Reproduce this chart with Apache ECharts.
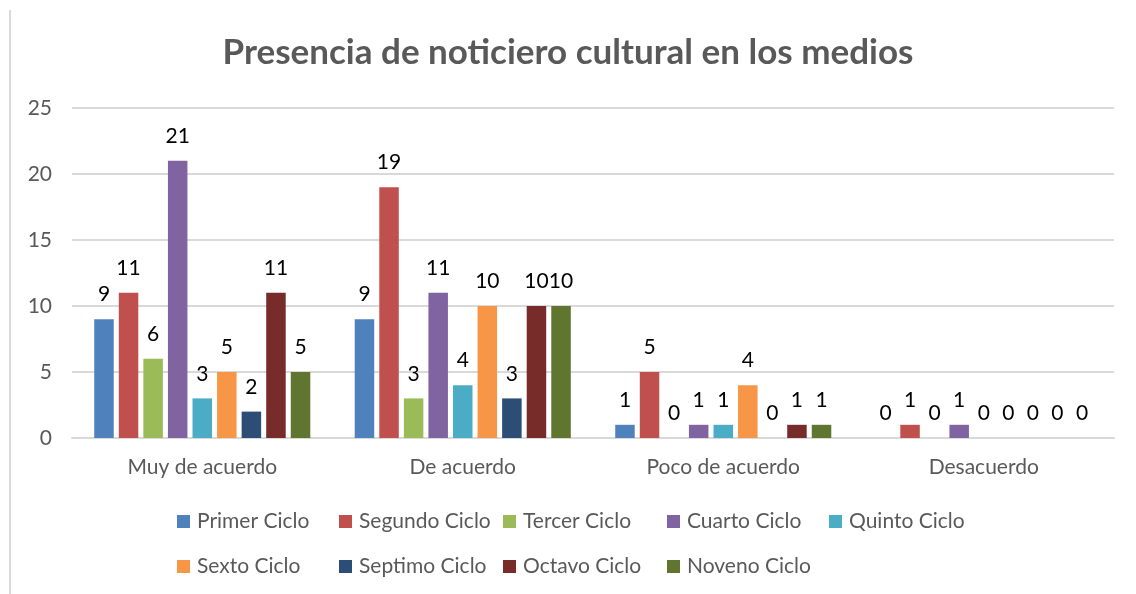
<!DOCTYPE html>
<html>
<head>
<meta charset="utf-8">
<title>Presencia de noticiero cultural en los medios</title>
<script src="https://cdn.jsdelivr.net/npm/echarts@6/dist/echarts.min.js"></script>
<style>
  html, body { margin: 0; padding: 0; background: #fff; }
  #chart { width: 1136px; height: 594px; }
</style>
</head>
<body>
<div id="chart"></div>
<script>
// categorias del eje x
const categorias = ["Muy de acuerdo", "De acuerdo", "Poco de acuerdo", "Desacuerdo"];

// valores por ciclo
const primerCiclo = [9, 9, 1, 0];
const segundoCiclo = [11, 19, 5, 1];
const tercerCiclo = [6, 3, 0, 0];
const cuartoCiclo = [21, 11, 1, 1];
const quintoCiclo = [3, 4, 1, 0];
const sextoCiclo = [5, 10, 4, 0];
const septimoCiclo = [2, 3, 0, 0];
const octavoCiclo = [11, 10, 1, 0];
const novenoCiclo = [5, 10, 1, 0];

const nombres = ["Primer Ciclo", "Segundo Ciclo", "Tercer Ciclo", "Cuarto Ciclo", "Quinto Ciclo",
  "Sexto Ciclo", "Septimo Ciclo", "Octavo Ciclo", "Noveno Ciclo"];
const valores = [primerCiclo, segundoCiclo, tercerCiclo, cuartoCiclo, quintoCiclo,
  sextoCiclo, septimoCiclo, octavoCiclo, novenoCiclo];
const colores = ["#4F81BD", "#C0504D", "#9BBB59", "#8064A2", "#4BACC6",
  "#F79646", "#2C4D75", "#772C2A", "#5F7530"];

const FUENTE = "Lato, 'Open Sans', sans-serif";

// leyenda en columnas (como en Excel)
const colX = [177, 339, 503, 667, 829];
let leyendas = colX.map(function (x, i) {
  let datos = [nombres[i]];
  if (nombres[i + 5]) datos.push(nombres[i + 5]);
  return {
    data: datos,
    orient: "vertical",
    left: x,
    top: 511,
    padding: 0,
    itemWidth: 13,
    itemHeight: 13,
    itemGap: 24,
    icon: "rect",
    textStyle: { color: "#595959", fontSize: 21, lineHeight: 21, fontFamily: FUENTE, padding: [0, 0, 0, 2] }
  };
});

let series = nombres.map(function (n, i) {
  return {
    name: n,
    type: "bar",
    data: valores[i],
    barWidth: 19.5,
    barGap: "26%",
    itemStyle: { color: colores[i] },
    label: {
      show: true,
      position: "top",
      distance: 14,
      color: "#000",
      fontSize: 21,
      fontFamily: FUENTE
    }
  };
});

let grafico = echarts.init(document.getElementById("chart"));
grafico.setOption({
  backgroundColor: "#fff",
  animation: false,
  title: {
    text: "Presencia de noticiero cultural en los medios",
    left: "center",
    top: 30,
    textStyle: { color: "#595959", fontSize: 35, fontWeight: "bold", fontFamily: FUENTE }
  },
  graphic: [{
    type: "line",
    shape: { x1: 10, y1: 10, x2: 10, y2: 594 },
    style: { stroke: "#d9d9d9", lineWidth: 2 }
  }],
  legend: leyendas,
  grid: { left: 72, right: 22, top: 108, bottom: 156, containLabel: false },
  xAxis: {
    type: "category",
    data: categorias,
    axisTick: { show: false },
    axisLine: { lineStyle: { color: "#d9d9d9", width: 2 } },
    axisLabel: { color: "#595959", fontSize: 21, fontFamily: FUENTE, margin: 19 }
  },
  yAxis: {
    type: "value",
    min: 0,
    max: 25,
    interval: 5,
    axisLine: { show: false },
    axisTick: { show: false },
    splitLine: { lineStyle: { color: "#d9d9d9", width: 2 } },
    axisLabel: { color: "#595959", fontSize: 21, fontFamily: FUENTE, margin: 20 }
  },
  series: series
});
</script>
</body>
</html>
